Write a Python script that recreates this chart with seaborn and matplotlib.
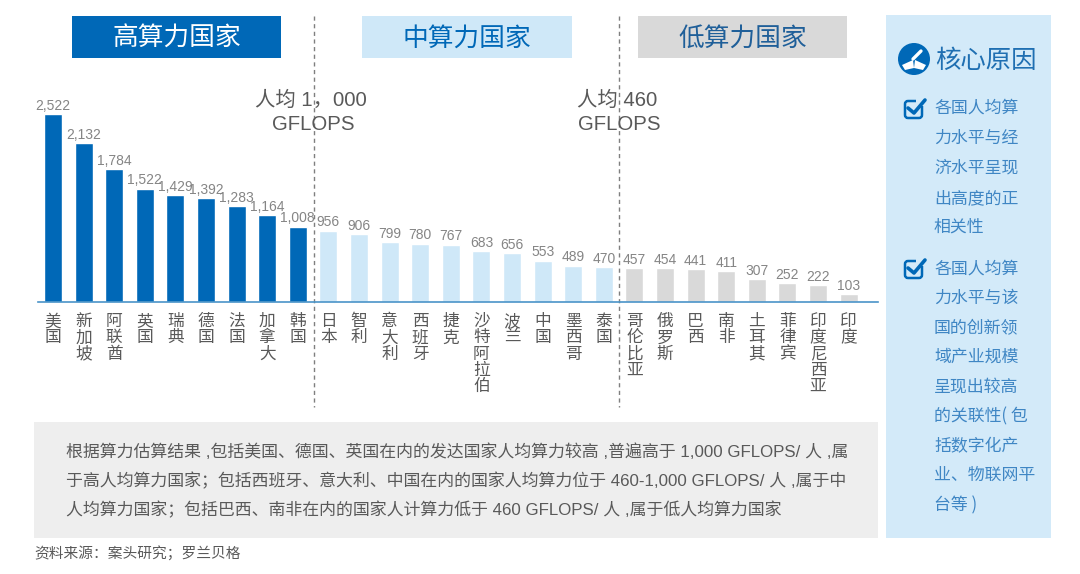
import matplotlib
matplotlib.use("Agg")
import pandas as pd
import seaborn as sns
import matplotlib.pyplot as plt
from matplotlib.patches import Rectangle, Circle, Polygon, FancyBboxPatch

countries = ["美国", "新加坡", "阿联酋", "英国", "瑞典", "德国", "法国", "加拿大", "韩国",
             "日本", "智利", "意大利", "西班牙", "捷克", "沙特阿拉伯", "波兰", "中国", "墨西哥", "泰国",
             "哥伦比亚", "俄罗斯", "巴西", "南非", "土耳其", "菲律宾", "印度尼西亚", "印度"]
gflops = [2522, 2132, 1784, 1522, 1429, 1392, 1283, 1164, 1008,
          956, 906, 799, 780, 767, 683, 656, 553, 489, 470,
          457, 454, 441, 411, 307, 252, 222, 103]
tiers = ["高算力国家"] * 9 + ["中算力国家"] * 10 + ["低算力国家"] * 8
tier_names = ["高算力国家", "中算力国家", "低算力国家"]

reason_one = ["各国人均算", "力水平与经", "济水平呈现", "出高度的正", "相关性"]
reason_two = ["各国人均算", "力水平与该", "国的创新领", "域产业规模", "呈现出较高",
              "的关联性( 包", "括数字化产", "业、物联网平", "台等 )"]
summary = ["根据算力估算结果 ,包括美国、德国、英国在内的发达国家人均算力较高 ,普遍高于 1,000 GFLOPS/ 人 ,属",
           "于高人均算力国家；包括西班牙、意大利、中国在内的国家人均算力位于 460-1,000 GFLOPS/ 人 ,属于中",
           "人均算力国家；包括巴西、南非在内的国家人计算力低于 460 GFLOPS/ 人 ,属于低人均算力国家"]
source = "资料来源：案头研究；罗兰贝格"

BLUE = "#0068B7"
LIGHT = "#CFE8F8"
GREY = "#D9D9D9"
PANEL = "#D3EAF9"
TEXT = "#595959"
palette = dict(zip(tier_names, [BLUE, LIGHT, GREY]))

sns.set_theme(style="white")
CJK = ["Noto Sans CJK SC", "DejaVu Sans"]
LATIN = ["Liberation Sans", "Noto Sans CJK SC"]
plt.rcParams["font.family"] = CJK

W, H = 1080, 574
fig = plt.figure(figsize=(W / 100, H / 100), dpi=100, facecolor="white")

# overlay in pixel coordinates for the boxes and panels around the chart
bg = fig.add_axes([0, 0, 1, 1], zorder=0)
bg.set_xlim(0, W)
bg.set_ylim(H, 0)
bg.axis("off")

# bars sit in an axes whose bottom edge is the baseline at y=302
left, right, top, base = 38, 878, 80, 302
ax = fig.add_axes([left / W, 1 - base / H, (right - left) / W, (base - top) / H], zorder=1)
ax.patch.set_alpha(0)

df = pd.DataFrame({"country": countries, "gflops": gflops, "tier": tiers})
labels = ["\n".join(name) for name in countries]
sns.barplot(data=df, x="country", y="gflops", hue="tier", hue_order=tier_names, palette=palette,
            dodge=False, width=0.59, legend=False, saturation=1, ax=ax)

for container in ax.containers:
    ax.bar_label(container, fmt="{:,.0f}", padding=1, fontsize=10, color="#858585", family=LATIN)

ax.set_xlim(-0.49, 26.96)
ax.set_ylim(0, 2522 * (base - top) / 188)
ax.set_xlabel("")
ax.set_ylabel("")
ax.set_yticks([])
ax.set_xticks(range(len(labels)))
ax.set_xticklabels(labels, fontsize=12, color=TEXT, linespacing=0.94)
ax.tick_params(axis="x", length=0, pad=8)
sns.despine(ax=ax, left=True)
ax.spines["bottom"].set_color("#4A94C8")
ax.spines["bottom"].set_linewidth(1.2)

# tier headers
for name, x0, x1, fc, tc in [("高算力国家", 72, 281, BLUE, "white"),
                             ("中算力国家", 362, 572, LIGHT, BLUE),
                             ("低算力国家", 638, 847, GREY, "#1F5F99")]:
    bg.add_patch(Rectangle((x0, 16), x1 - x0, 42, fc=fc, ec="none"))
    bg.text((x0 + x1) / 2, 38.5, name, color=tc, fontsize=18.5, ha="center", va="center")

# tier thresholds
for x in [313.5, 619]:
    bg.plot([x, x], [16, 407], color="#7F7F7F", lw=1, ls=(0, (3, 2.5)))
bg.text(311, 100, "人均 1，000", color=TEXT, fontsize=14.7, ha="center", va="center", family=LATIN)
bg.text(313, 125, "GFLOPS", color=TEXT, fontsize=14.7, ha="center", va="center", family=LATIN)
bg.text(617, 100, "人均 460", color=TEXT, fontsize=14.7, ha="center", va="center", family=LATIN)
bg.text(619, 125, "GFLOPS", color=TEXT, fontsize=14.7, ha="center", va="center", family=LATIN)

# summary box
bg.add_patch(Rectangle((34, 422), 844, 116, fc="#EEEEEE", ec="none"))
for y, line in zip([452, 481, 510], summary):
    bg.text(66, y, line, color=TEXT, fontsize=12.2, va="center", family=LATIN)
bg.text(34, 554, source, color=TEXT, fontsize=10.6, va="center")

# right panel
bg.add_patch(Rectangle((886, 15), 165, 523, fc=PANEL, ec="none"))
bg.add_patch(Circle((914, 59), 16, fc=BLUE, ec="none"))
bg.add_patch(Polygon([(902, 65), (913, 60), (914, 68), (905, 70)], fc="white", ec="none"))
bg.add_patch(Polygon([(926, 65), (915, 60), (914, 68), (923, 70)], fc="white", ec="none"))
bg.plot([913, 921], [59, 51], color="white", lw=2.4)
bg.text(935, 61, "核心原因", color="#1F6FB2", fontsize=18.3, va="center")


def check_mark(y):
    bg.add_patch(FancyBboxPatch((905, y - 8), 17, 17, boxstyle="round,pad=0,rounding_size=3",
                                fc="none", ec=BLUE, lw=1.8))
    bg.add_patch(Rectangle((916, y - 11), 10, 8, fc=PANEL, ec="none"))
    bg.plot([908, 914, 925], [y - 1, y + 4, y - 9], color=BLUE, lw=2.6)


check_mark(109)
check_mark(269)
for y, line in zip([108, 138, 168, 198, 227], reason_one):
    bg.text(934, y, line, color="#3F86C4", fontsize=12.2, va="center")
for y, line in zip([269, 298, 328, 357, 387, 416, 446, 475, 505], reason_two):
    bg.text(934, y, line, color="#3F86C4", fontsize=12.2, va="center")

fig.savefig("out.png", dpi=100)
plt.close(fig)
